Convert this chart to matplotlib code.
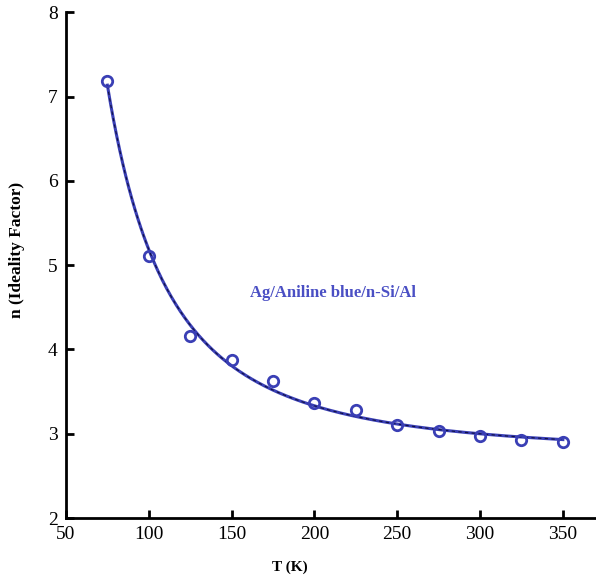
import numpy as np
import matplotlib
matplotlib.use("Agg")
import matplotlib.pyplot as plt

T = [75, 100, 125, 150, 175, 200, 225, 250, 275, 300, 325, 350]
n = [7.18, 5.11, 4.16, 3.87, 3.63, 3.37, 3.28, 3.10, 3.03, 2.97, 2.92, 2.90]
xticks = [50, 100, 150, 200, 250, 300, 350]
yticks = [2, 3, 4, 5, 6, 7, 8]
label = "Ag/Aniline blue/n-Si/Al"

plt.rcParams['font.family'] = ['Liberation Serif', 'DejaVu Serif']

fig = plt.figure(figsize=(5.96, 5.81), dpi=100)
ax = fig.add_axes([0.1107, 0.1084, 0.8893, 0.8706])

# fitted curve n = a + b/T + c/T^2 (least squares on the data)
Ta = np.array(T, float)
coef = np.polyfit(1.0 / Ta, np.array(n), 2)
Tf = np.linspace(min(T), max(T), 300)
nf = np.polyval(coef, 1.0 / Tf)

col = '#3a3fb5'
ax.plot(Tf, nf, color=col, lw=2.2, zorder=2)
ax.plot(Tf, nf, color='#101040', lw=0.8, ls=(0, (3, 3)), zorder=3)
ax.plot(T, n, 'o', ms=7.5, mfc='none', mec=col, mew=2, zorder=4)

ax.set_xlim(50, 370)
ax.set_ylim(2, 8)
ax.set_xticks(xticks)
ax.set_yticks(yticks)
ax.spines['top'].set_visible(False)
ax.spines['right'].set_visible(False)
for s in ['left', 'bottom']:
    ax.spines[s].set_linewidth(2)
ax.tick_params(direction='in', length=6, width=2, labelsize=14, pad=6)

ax.set_xlabel('T (K)', fontsize=11, fontweight='bold')
ax.set_ylabel('n (Ideality Factor)', fontsize=12.5, fontweight='bold')
ax.xaxis.set_label_coords(0.423, -0.097)
ax.yaxis.set_label_coords(-0.092, 0.53)
ax.xaxis.label.set_va('center')
ax.yaxis.label.set_va('center')

ax.text(211, 4.67, label, color='#4a4fc4', fontsize=12, fontweight='bold',
        ha='center', va='center')

fig.savefig('out.png', dpi=100)
